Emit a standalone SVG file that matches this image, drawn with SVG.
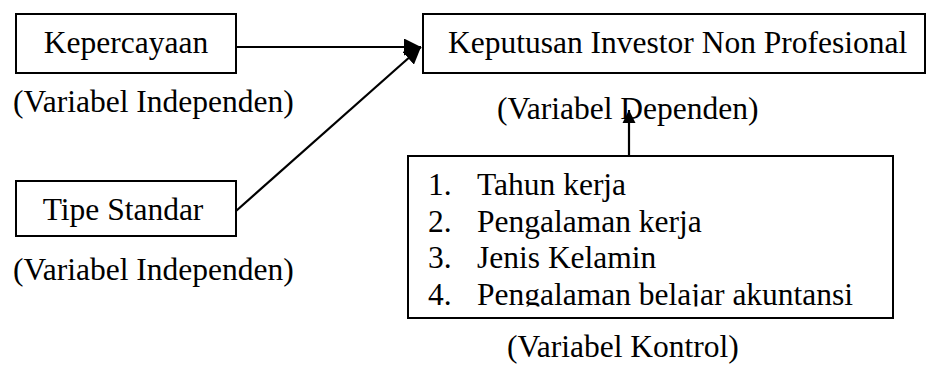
<svg xmlns="http://www.w3.org/2000/svg" width="926" height="368" viewBox="0 0 926 368">
<style>
  text { font-family: "Liberation Serif", "Times New Roman", serif; font-size: 31.5px; fill: #000; }
  .box { fill: #fff; stroke: #000; stroke-width: 2; }
  .conn { stroke: #000; stroke-width: 2.2; fill: none; }
</style>
<defs>
  <marker id="arrow" viewBox="0 0 10 10" refX="10" refY="5" markerWidth="17" markerHeight="17" markerUnits="userSpaceOnUse" orient="auto">
    <path d="M0,0 L10,5 L0,10 z" fill="#000"/>
  </marker>
  <marker id="arrowSmall" viewBox="0 0 10 10" refX="10" refY="5" markerWidth="13" markerHeight="14" markerUnits="userSpaceOnUse" orient="auto">
    <path d="M0,0 L10,5 L0,10 z" fill="#000"/>
  </marker>
  <clipPath id="listClip">
    <rect x="409" y="157" width="483" height="149.5"/>
  </clipPath>
</defs>
<rect width="926" height="368" fill="#fff"/>

<g id="connectors">
  <line class="conn" x1="236" y1="47" x2="421" y2="47" marker-end="url(#arrow)"/>
  <line class="conn" x1="236" y1="211" x2="421" y2="47" marker-end="url(#arrow)"/>
  <line class="conn" x1="629" y1="155" x2="629" y2="110" marker-end="url(#arrowSmall)"/>
</g>

<g id="kepercayaan">
  <rect class="box" x="16" y="14" width="220" height="59"/>
  <text x="126" y="53" text-anchor="middle">Kepercayaan</text>
  <text x="13" y="112">(Variabel Independen)</text>
</g>

<g id="tipe-standar">
  <rect class="box" x="16" y="181" width="220" height="55"/>
  <text x="123" y="220" text-anchor="middle">Tipe Standar</text>
  <text x="13" y="280">(Variabel Independen)</text>
</g>

<g id="keputusan">
  <rect class="box" x="423" y="14" width="502" height="59"/>
  <text x="448" y="53">Keputusan Investor Non Profesional</text>
  <text x="497" y="119">(Variabel Dependen)</text>
</g>

<g id="kontrol">
  <rect class="box" x="408" y="156" width="485" height="162"/>
  <g clip-path="url(#listClip)">
    <text x="428" y="195">1.</text><text x="477" y="195">Tahun kerja</text>
    <text x="428" y="232">2.</text><text x="477" y="232">Pengalaman kerja</text>
    <text x="428" y="268">3.</text><text x="477" y="268">Jenis Kelamin</text>
    <text x="428" y="305">4.</text><text x="477" y="305">Pengalaman belajar akuntansi</text>
  </g>
  <text x="507" y="357">(Variabel Kontrol)</text>
</g>
</svg>
